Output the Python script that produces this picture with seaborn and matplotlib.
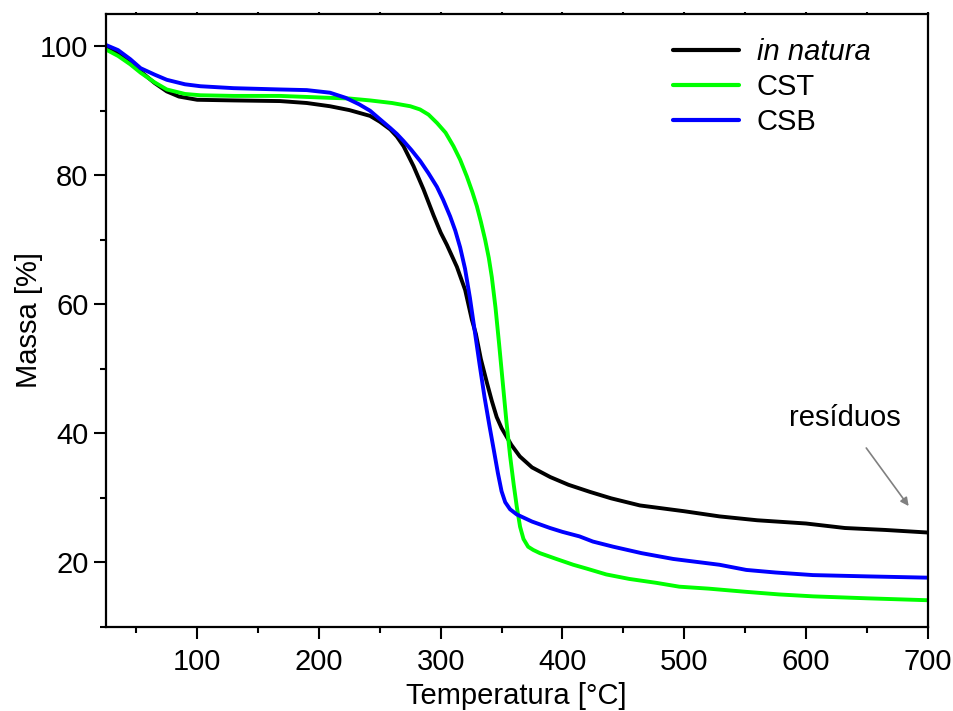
import numpy as np
import pandas as pd
import matplotlib
matplotlib.use("Agg")
import matplotlib.pyplot as plt
import seaborn as sns
from matplotlib.ticker import MultipleLocator

# Thermogravimetric curves (temperature in °C, remaining mass in %)
temp_natura = [25, 35, 45, 53.5, 65, 75, 85, 100, 130, 168, 190, 209, 225, 242,
               250, 258.6, 264, 269.5, 277.7, 285.9, 294.1, 300, 305.1, 313.3,
               320.1, 325.6, 328.9, 333, 338, 342, 346, 350, 354, 358, 365, 375,
               390, 405, 422.6, 440, 463.6, 500, 529, 560, 600, 632, 665, 700]
mass_natura = [100.0, 99.0, 97.6, 96.1, 94.3, 93.0, 92.2, 91.7, 91.6, 91.5, 91.2,
               90.7, 90.1, 89.2, 88.3, 87.1, 86.0, 84.5, 81.4, 77.8, 73.8, 71.1,
               69.2, 65.8, 62.2, 57.6, 55.4, 51.5, 47.8, 45.0, 42.5, 40.8, 39.5,
               38.2, 36.4, 34.7, 33.2, 32.0, 30.9, 29.9, 28.8, 27.9, 27.1, 26.5,
               26.0, 25.3, 25.0, 24.6]

temp_cst = [25, 35, 45, 53.5, 65, 75, 90, 102.7, 130, 168, 209, 225, 242, 260,
            275, 283, 290, 297, 304, 310.5, 316, 321.5, 326, 329.7, 333, 336.5,
            339.5, 342, 345, 348, 351, 354, 357, 360, 362.5, 365.2, 368, 371.8,
            376, 381.5, 395, 408.9, 420, 436, 455, 477, 496, 520, 551, 578, 606,
            650, 700]
mass_cst = [99.5, 98.5, 97.2, 95.9, 94.4, 93.3, 92.6, 92.4, 92.3, 92.3, 92.0,
            91.9, 91.6, 91.2, 90.7, 90.2, 89.4, 88.1, 86.6, 84.5, 82.4, 79.8,
            77.4, 75.2, 72.8, 70.0, 67.2, 64.2, 59.5, 53.8, 47.8, 41.8, 36.5,
            32.0, 28.6, 25.5, 23.6, 22.4, 21.9, 21.4, 20.5, 19.6, 19.0, 18.1,
            17.4, 16.8, 16.2, 15.9, 15.4, 15.0, 14.7, 14.4, 14.1]

temp_csb = [25, 35, 45, 53.5, 65, 75, 90, 102.7, 130, 168, 190, 209, 222, 233,
            242, 250, 258.7, 264, 269.5, 276, 283.2, 290, 296.9, 302, 307.8, 312,
            316, 320, 324, 328, 332, 336, 340, 344, 347, 350, 353, 357, 362.5,
            375, 389.8, 400, 414, 425, 441.7, 465, 491, 529, 551, 575, 605.7,
            650, 700]
mass_csb = [100.2, 99.4, 98.0, 96.6, 95.6, 94.8, 94.1, 93.8, 93.5, 93.3, 93.2,
            92.8, 92.0, 91.0, 90.0, 88.7, 87.3, 86.4, 85.3, 83.9, 82.2, 80.3,
            78.2, 76.2, 73.6, 71.4, 68.8, 65.5, 61.0, 55.8, 50.6, 45.6, 41.2,
            37.0, 33.8, 31.0, 29.3, 28.2, 27.4, 26.3, 25.3, 24.7, 24.0, 23.2,
            22.4, 21.4, 20.5, 19.6, 18.8, 18.4, 18.0, 17.8, 17.6]

series_names = ["in natura", "CST", "CSB"]
series_colors = ["#000000", "#00ff00", "#0000ff"]

frames = []
for name, t, m in zip(series_names,
                      [temp_natura, temp_cst, temp_csb],
                      [mass_natura, mass_cst, mass_csb]):
    frames.append(pd.DataFrame({"Temperatura": t, "Massa": m, "Amostra": name}))
df = pd.concat(frames, ignore_index=True)

sns.set_theme(style="white")
plt.rcParams["font.family"] = ["Liberation Sans", "DejaVu Sans"]
plt.rcParams["text.color"] = "black"
plt.rcParams["axes.labelcolor"] = "black"

FS = 21

fig = plt.figure(figsize=(9.54, 7.11), dpi=100)
ax = fig.add_axes([0.111, 0.1186, 0.8614, 0.8617])

sns.lineplot(data=df, x="Temperatura", y="Massa", hue="Amostra",
             hue_order=series_names, palette=series_colors,
             estimator=None, sort=False, linewidth=2.8, ax=ax)

ax.set_xlim(25, 700)
ax.set_ylim(10, 105)
ax.xaxis.set_major_locator(MultipleLocator(100))
ax.xaxis.set_minor_locator(MultipleLocator(50))
ax.yaxis.set_major_locator(MultipleLocator(20))
ax.yaxis.set_minor_locator(MultipleLocator(10))

for side in ["left", "bottom", "top", "right"]:
    ax.spines[side].set_visible(True)
    ax.spines[side].set_color("black")
    ax.spines[side].set_linewidth(1.6)

ax.tick_params(axis="both", which="major", direction="out", length=8.5,
               width=1.5, labelsize=FS, colors="black", pad=4)
ax.tick_params(axis="x", which="major", pad=7)
ax.tick_params(axis="both", which="minor", direction="out", length=4.3,
               width=1.5, colors="black")
ax.tick_params(axis="x", which="both", top=False, bottom=True)
ax.tick_params(axis="y", which="both", left=True, right=False)

# short ticks along the top edge
top = ax.secondary_xaxis("top")
top.xaxis.set_major_locator(MultipleLocator(50))
top.tick_params(axis="x", which="major", direction="out", length=1.5,
                width=1.5, labeltop=False, colors="black")
top.spines["top"].set_visible(False)

ax.set_xlabel("Temperatura [°C]", fontsize=FS, color="black", labelpad=4)
ax.set_ylabel("Massa [%]", fontsize=FS, color="black", labelpad=-2)

leg = ax.legend(loc="upper right", bbox_to_anchor=(0.955, 0.994), frameon=False,
                fontsize=FS, handlelength=2.25, handletextpad=0.6,
                labelspacing=0.24, borderpad=0.2)
for line in leg.get_lines():
    line.set_linewidth(3)
leg.get_texts()[0].set_fontstyle("italic")

ax.annotate("resíduos", xy=(684.4, 28.7), xytext=(631.8, 42.3),
            ha="center", va="center", fontsize=FS, color="black",
            arrowprops=dict(arrowstyle="-|>", color="#808080", lw=1.2,
                            shrinkA=11, shrinkB=0, mutation_scale=12))

fig.savefig("out.png", dpi=100, facecolor="white")
